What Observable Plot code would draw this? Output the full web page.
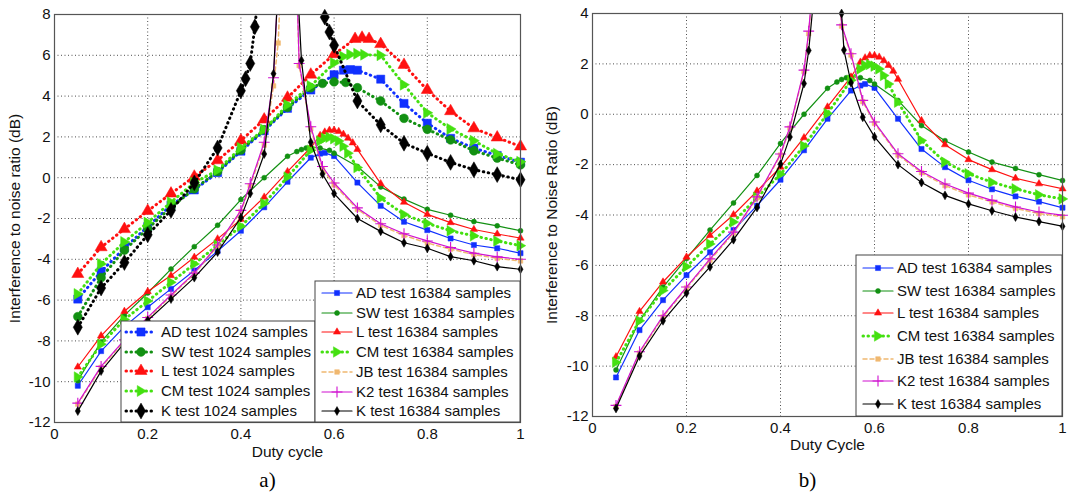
<!DOCTYPE html>
<html><head><meta charset="utf-8">
<script src="https://cdn.jsdelivr.net/npm/d3@7"></script>
<script src="https://cdn.jsdelivr.net/npm/@observablehq/plot@0.6"></script>
<style>
body{margin:0;background:#fff;}
#wrap{position:relative;width:1068px;height:496px;overflow:hidden;}
#pa,#pb{position:absolute;top:0;}
#pa{left:0;} #pb{left:534px;}
</style></head><body><div id="wrap"><div id="pa"></div><div id="pb"></div></div>
<script>
// ---------- ticks ----------
const xTicks = [0, 0.2, 0.4, 0.6, 0.8, 1];
const yTicksA = [-12, -10, -8, -6, -4, -2, 0, 2, 4, 6, 8];
const yTicksB = [-12, -10, -8, -6, -4, -2, 0, 2, 4];

// ---------- panel a : 1024 samples ----------
const xAD1024 = [0.05,0.1,0.15,0.2,0.25,0.3,0.35,0.4,0.45,0.5,0.55,0.6,0.62,0.635,0.65,0.7,0.75,0.8,0.85,0.9,0.95,1];
const yAD1024 = [-5.95,-4.6,-3.45,-2.4,-1.35,-0.6,0.25,1.3,2.3,3.4,4.3,5.05,5.27,5.3,5.27,4.83,3.64,2.67,1.93,1.45,1.09,0.76];
const xSW1024 = [0.05,0.1,0.15,0.2,0.25,0.3,0.35,0.4,0.45,0.5,0.55,0.575,0.6,0.625,0.65,0.7,0.75,0.8,0.85,0.9,0.95,1];
const ySW1024 = [-6.81,-4.9,-3.55,-2.5,-1.45,-0.55,0.3,1.35,2.35,3.45,4.41,4.62,4.7,4.67,4.41,3.76,2.91,2.37,1.85,1.32,0.96,0.63];
const xL1024 = [0.05,0.1,0.15,0.2,0.25,0.3,0.35,0.4,0.45,0.5,0.55,0.6,0.645,0.66,0.675,0.7,0.75,0.8,0.85,0.9,0.95,1];
const yL1024 = [-4.72,-3.41,-2.52,-1.63,-0.78,0.05,0.85,1.82,2.85,3.92,5.05,6.05,6.8,6.86,6.8,6.55,5.53,4.3,3.26,2.42,1.97,1.53];
const xCM1024 = [0.05,0.1,0.15,0.2,0.25,0.3,0.35,0.4,0.45,0.5,0.55,0.6,0.62,0.635,0.65,0.665,0.7,0.75,0.8,0.85,0.9,0.95,1];
const yCM1024 = [-5.7,-4.23,-3.15,-2.2,-1.2,-0.25,0.37,1.47,2.36,3.57,4.5,5.62,5.94,6.04,6.08,6.03,6.0,4.56,3.18,2.39,1.81,1.18,0.78];
const xK1024 = [0.05,0.1,0.15,0.2,0.25,0.3,0.35,0.4,0.41,0.42,0.43,0.44,0.5,0.57,0.58,0.59,0.6,0.65,0.7,0.75,0.8,0.85,0.9,0.95,1];
const yK1024 = [-7.33,-5.41,-4.16,-2.8,-1.6,-0.25,1.46,4.26,4.85,5.6,7.4,9.6,NaN,9.2,7.87,7.14,6.49,3.76,2.59,1.69,1.2,0.75,0.39,0.15,-0.1];

// ---------- 16384 samples (panel a = ...a, panel b = ...b) ----------
const xAD16 = [0.05,0.1,0.15,0.2,0.25,0.3,0.35,0.4,0.45,0.5,0.55,0.57,0.58,0.6,0.65,0.7,0.75,0.8,0.85,0.9,0.95,1];
const yAD16a = [-10.2,-8.5,-7.3,-6.35,-5.45,-4.55,-3.6,-2.6,-1.45,-0.2,0.98,1.18,1.22,1.06,-0.24,-1.38,-2.16,-2.57,-2.98,-3.3,-3.46,-3.7];
const yAD16b = [-10.45,-8.57,-7.38,-6.39,-5.48,-4.6,-3.63,-2.6,-1.43,-0.18,0.94,1.14,1.2,1.05,-0.18,-1.38,-2.1,-2.62,-2.98,-3.26,-3.47,-3.71];
const xSW16 = [0.05,0.1,0.15,0.2,0.25,0.3,0.35,0.4,0.45,0.5,0.52,0.53,0.54,0.55,0.57,0.59,0.6,0.65,0.7,0.75,0.8,0.85,0.9,0.95,1];
const ySW16a = [-9.95,-8.05,-6.75,-5.65,-4.48,-3.38,-2.33,-1.07,0.0,1.05,1.28,1.38,1.45,1.5,1.45,1.34,1.2,0.55,-0.45,-1.05,-1.55,-1.84,-2.15,-2.36,-2.6];
const ySW16b = [-10.15,-8.2,-6.86,-5.73,-4.6,-3.52,-2.43,-1.16,0.0,1.03,1.28,1.38,1.45,1.5,1.45,1.34,1.2,0.55,-0.45,-1.05,-1.5,-1.9,-2.15,-2.4,-2.63];
const xL16 = [0.05,0.1,0.15,0.2,0.25,0.3,0.35,0.4,0.45,0.5,0.55,0.57,0.58,0.59,0.6,0.61,0.62,0.63,0.64,0.65,0.7,0.75,0.8,0.85,0.9,0.95,1];
const yL16a = [-9.28,-7.75,-6.55,-5.58,-4.8,-3.9,-3.0,-2.05,-0.95,0.3,1.48,2.07,2.24,2.33,2.33,2.27,2.13,1.94,1.71,1.39,-0.29,-1.2,-1.8,-2.2,-2.54,-2.76,-2.96];
const yL16b = [-9.63,-7.83,-6.66,-5.67,-4.81,-3.99,-3.05,-2.1,-0.93,0.29,1.48,2.07,2.24,2.33,2.33,2.27,2.13,1.94,1.71,1.39,-0.25,-1.21,-1.8,-2.2,-2.54,-2.76,-2.96];
const xCM16 = [0.05,0.1,0.15,0.2,0.25,0.3,0.35,0.4,0.45,0.5,0.55,0.57,0.58,0.59,0.6,0.61,0.62,0.63,0.65,0.7,0.75,0.8,0.85,0.9,0.95,1];
const yCM16a = [-9.77,-8.16,-6.95,-6.05,-5.13,-4.23,-3.3,-2.38,-1.26,0.03,1.35,1.8,1.94,1.98,1.91,1.8,1.54,1.2,0.5,-1.0,-1.8,-2.24,-2.6,-2.85,-3.1,-3.33];
const yCM16b = [-9.85,-8.2,-7.0,-6.05,-5.15,-4.28,-3.3,-2.38,-1.26,0.03,1.35,1.8,1.94,1.98,1.91,1.8,1.54,1.2,0.48,-1.04,-1.9,-2.36,-2.7,-2.96,-3.2,-3.36];
const xJB16a = [0.05,0.1,0.15,0.2,0.25,0.3,0.35,0.4,0.42,0.45,0.47,0.48,0.49,0.5,0.52,0.525,0.55,0.575,0.6,0.65,0.7,0.75,0.8,0.85,0.9,0.95,1];
const yJB16a = [-11.1,-9.3,-8.0,-6.9,-5.8,-4.72,-3.35,-1.65,-0.4,1.6,4.5,6.6,12,NaN,9.5,5.5,2.4,0.45,-0.35,-1.55,-2.33,-2.83,-3.2,-3.5,-3.77,-3.95,-4.08];
const xK2_16a = [0.05,0.1,0.15,0.2,0.25,0.3,0.35,0.4,0.42,0.45,0.47,0.48,0.5,0.52,0.525,0.55,0.575,0.6,0.65,0.7,0.75,0.8,0.85,0.9,0.95,1];
const yK2_16a = [-11.05,-9.25,-7.95,-6.85,-5.75,-4.68,-3.3,-1.6,-0.3,1.74,4.9,9.5,NaN,9.5,5.6,2.5,0.55,-0.26,-1.48,-2.26,-2.75,-3.1,-3.42,-3.7,-3.88,-4.0];
const xK16a = [0.05,0.1,0.15,0.2,0.25,0.3,0.35,0.4,0.42,0.45,0.47,0.48,0.5,0.52,0.53,0.55,0.575,0.6,0.65,0.7,0.75,0.8,0.85,0.9,0.95,1];
const yK16a = [-11.44,-9.48,-8.1,-7.0,-5.95,-4.9,-3.65,-1.95,-0.77,1.16,5.1,9.5,NaN,10,5.75,1.74,0.18,-0.78,-2.0,-2.63,-3.19,-3.46,-3.87,-4.07,-4.36,-4.49];
const xK2_16b = [0.05,0.1,0.15,0.2,0.25,0.3,0.35,0.4,0.42,0.45,0.46,0.47,0.5,0.52,0.53,0.55,0.575,0.6,0.65,0.7,0.75,0.8,0.85,0.9,0.95,1];
const yK2_16b = [-11.56,-9.43,-8.0,-6.86,-5.74,-4.68,-3.28,-1.58,-0.5,1.75,3.3,5.5,NaN,6.5,3.55,2.4,0.55,-0.31,-1.57,-2.27,-2.77,-3.13,-3.42,-3.68,-3.88,-4.01];
const yJB16b = [-11.6,-9.48,-8.05,-6.9,-5.8,-4.72,-3.32,-1.62,-0.55,1.7,3.2,5.4,NaN,6.4,3.5,2.35,0.5,-0.36,-1.62,-2.32,-2.83,-3.2,-3.48,-3.74,-3.94,-4.07];
const xK16b = [0.05,0.1,0.15,0.2,0.25,0.3,0.35,0.4,0.42,0.45,0.46,0.47,0.5,0.525,0.53,0.535,0.55,0.575,0.6,0.65,0.7,0.75,0.8,0.85,0.9,0.95,1];
const yK16b = [-11.68,-9.6,-8.2,-7.1,-6.06,-4.98,-3.7,-1.98,-0.9,1.22,2.53,4.5,NaN,6.5,4.0,2.55,1.25,-0.12,-0.9,-2.0,-2.71,-3.22,-3.56,-3.83,-4.08,-4.26,-4.45];

// ---------- labels ----------
const names1024 = ["AD test 1024 samples","SW test 1024 samples","L test 1024 samples","CM test 1024 samples","K test 1024 samples"];
const names16 = ["AD test 16384 samples","SW test 16384 samples","L test 16384 samples","CM test 16384 samples","JB test 16384 samples","K2 test 16384 samples","K test 16384 samples"];

// ---------- styles ----------
const triRight = {draw(ctx, size){ const a = Math.sqrt(size); ctx.moveTo(a*0.62,0); ctx.lineTo(-a*0.42,-a*0.62); ctx.lineTo(-a*0.42,a*0.62); ctx.closePath(); }};
const C = {blue:"#1030ff", dgreen:"#129012", red:"#ff1010", lgreen:"#44e010", black:"#000", mag:"#d010d0", tan:"#f0b870"};
const dotted = {width:3, dash:"0.5,4.5"};
const st1024 = [
  {color:C.blue, ...dotted, symbol:d3.symbolSquare, r:4.6},
  {color:C.dgreen, ...dotted, symbol:d3.symbolCircle, r:4.4},
  {color:C.red, ...dotted, symbol:d3.symbolTriangle, r:4.5},
  {color:C.lgreen, ...dotted, symbol:triRight, r:5},
  {color:C.black, ...dotted, symbol:d3.symbolDiamond, r:4.8}
];
const st16 = [
  {color:C.blue, width:1.2, dash:null, symbol:d3.symbolSquare, r:2.9},
  {color:C.dgreen, width:1.2, dash:null, symbol:d3.symbolCircle, r:2.5},
  {color:C.red, width:1.2, dash:null, symbol:d3.symbolTriangle, r:2.7},
  {color:C.lgreen, width:3, dash:"0.5,4.5", symbol:triRight, r:4.8},
  {color:C.tan, width:1.5, dash:"4,3", symbol:d3.symbolSquare, r:2.6},
  {color:C.mag, width:1.2, dash:null, symbol:d3.symbolPlus, r:3.6, hollow:true},
  {color:C.black, width:1.2, dash:null, symbol:d3.symbolDiamond, r:2.7}
];

const FONT = '"Liberation Sans", Arial, sans-serif';

function seriesMarks(xs, ys, s, yDomain) {
  const rows = xs.map((x, i) => ({x, y: ys[i]}));
  const inside = rows.filter(d => d.y >= yDomain[0] && d.y <= yDomain[1]);
  return [
    Plot.line(rows, {x:"x", y:"y", stroke:s.color, strokeWidth:s.width, strokeDasharray:s.dash, strokeLinecap:"round", strokeLinejoin:"round", clip:true}),
    Plot.dot(inside, {x:"x", y:"y", symbol:s.symbol, r:s.r, fill:s.hollow ? "none" : s.color, stroke:s.color, strokeWidth:s.hollow ? 1.1 : 0.5})
  ];
}

function drawLegend(svg, box, names, styles) {
  const g = d3.select(svg).append("g").attr("text-anchor", "start");
  g.append("rect").attr("x", box.x).attr("y", box.y).attr("width", box.w).attr("height", box.h)
    .attr("fill", "#fff").attr("stroke", "#444").attr("stroke-width", 1);
  names.forEach((name, i) => {
    const s = styles[i], y = box.rows[i];
    g.append("line").attr("x1", box.l1).attr("x2", box.l2).attr("y1", y).attr("y2", y)
      .attr("stroke", s.color).attr("stroke-width", s.width).attr("stroke-linecap", "round")
      .attr("stroke-dasharray", s.dash);
    g.append("path").attr("transform", `translate(${(box.l1 + box.l2) / 2},${y})`)
      .attr("d", d3.symbol().type(s.symbol).size(Math.PI * s.r * s.r)())
      .attr("fill", s.hollow ? "none" : s.color).attr("stroke", s.color).attr("stroke-width", s.hollow ? 1.1 : 0.5);
    g.append("text").attr("x", box.tx).attr("y", y).attr("dy", "0.36em").attr("text-anchor", "start")
      .attr("font-family", FONT).attr("font-size", 15).attr("fill", "#111").text(name);
  });
}

function makePanel(o) {
  const marks = [
    Plot.gridX(xTicks, {stroke:"#222", strokeOpacity:0.8, strokeDasharray:"1,2.5"}),
    Plot.gridY(o.yTicks, {stroke:"#222", strokeOpacity:0.8, strokeDasharray:"1,2.5"}),
    Plot.axisX(xTicks, {tickSize:0, tickPadding:6, tickFormat:d => String(d), label:null}),
    Plot.axisY(o.yTicks, {tickSize:0, tickPadding:4, tickFormat:d => String(d), label:null})
  ];
  o.series.forEach(([xs, ys, s]) => marks.push(...seriesMarks(xs, ys, s, o.yDomain)));
  marks.push(Plot.frame({stroke:"#555", strokeWidth:1.2}));
  marks.push(Plot.text([o.yLabel], {frameAnchor:"left", dx:o.yLabelDx, rotate:-90, textAnchor:"middle", lineAnchor:"middle", text:d => d, fontSize:15.5, fill:"#111"}));
  marks.push(Plot.text([o.xLabel], {frameAnchor:"bottom", dy:o.xLabelDy, textAnchor:"middle", lineAnchor:"middle", text:d => d, fontSize:15.5, fill:"#111"}));
  marks.push(Plot.text([o.caption], {frameAnchor:"bottom", dy:o.capDy, dx:o.capDx, textAnchor:"middle", lineAnchor:"middle", text:d => d, fontSize:21, fontFamily:'"Liberation Serif", "Times New Roman", serif', fill:"#000"}));
  return Plot.plot({
    width:534, height:496,
    marginLeft:o.ml, marginRight:o.mr, marginTop:o.mt, marginBottom:o.mb,
    x:{domain:[0, 1]}, y:{domain:o.yDomain},
    style:{fontFamily:FONT, fontSize:"15px", color:"#111", background:"#fff", overflow:"visible"},
    marks
  });
}

// ---------- panel a ----------
const svgA = makePanel({
  yDomain:[-12, 8], yTicks:yTicksA, ml:54, mr:14, mt:14, mb:74,
  yLabel:"Interference to noise ratio (dB)", yLabelDx:-39,
  xLabel:"Duty cycle", xLabelDy:30, caption:"a)", capDy:58, capDx:-20,
  series:[
    [xAD1024, yAD1024, st1024[0]], [xSW1024, ySW1024, st1024[1]], [xL1024, yL1024, st1024[2]],
    [xCM1024, yCM1024, st1024[3]], [xK1024, yK1024, st1024[4]],
    [xAD16, yAD16a, st16[0]], [xSW16, ySW16a, st16[1]], [xL16, yL16a, st16[2]], [xCM16, yCM16a, st16[3]],
    [xJB16a, yJB16a, st16[4]], [xK2_16a, yK2_16a, st16[5]], [xK16a, yK16a, st16[6]]
  ]
});
document.getElementById("pa").appendChild(svgA);
drawLegend(svgA, {x:121, y:321, w:194, h:101, l1:126, l2:156, tx:161, rows:[332,352,371,391,411]}, names1024, st1024);
drawLegend(svgA, {x:315, y:281, w:205, h:141, l1:322, l2:352, tx:356, rows:[293,313,332,352,372,392,411]}, names16, st16);

// ---------- panel b ----------
const svgB = makePanel({
  yDomain:[-12, 4], yTicks:yTicksB, ml:58, mr:6, mt:13, mb:80,
  yLabel:"Interference to Noise Ratio (dB)", yLabelDx:-40,
  xLabel:"Duty Cycle", xLabelDy:29, caption:"b)", capDy:64, capDx:-20,
  series:[
    [xAD16, yAD16b, st16[0]], [xSW16, ySW16b, st16[1]], [xL16, yL16b, st16[2]], [xCM16, yCM16b, st16[3]],
    [xK2_16b, yJB16b, st16[4]], [xK2_16b, yK2_16b, st16[5]], [xK16b, yK16b, st16[6]]
  ]
});
document.getElementById("pb").appendChild(svgB);
drawLegend(svgB, {x:322, y:255, w:206, h:161, l1:329, l2:359, tx:363, rows:[268,291,313,336,359,381,404]}, names16, st16);
</script>
</body></html>
